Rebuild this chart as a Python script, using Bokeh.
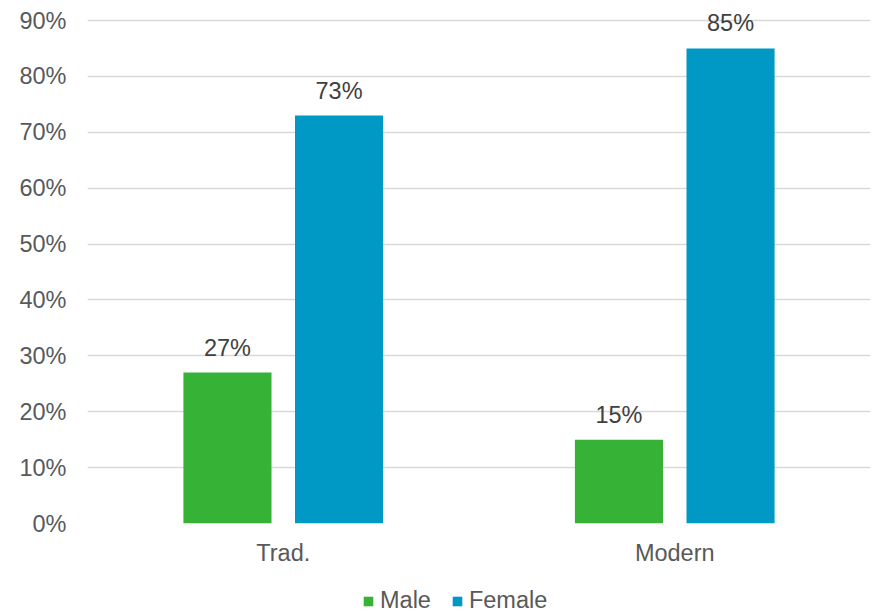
from bokeh.plotting import figure
from bokeh.layouts import column
from bokeh.models import (ColumnDataSource, FactorRange, Range1d, FixedTicker,
                          NumeralTickFormatter, Legend, LegendItem)
from bokeh.transform import dodge
from bokeh.core.properties import value
from bokeh.embed import file_html
from bokeh.resources import INLINE

# Share of male / female respondents per group
categories = ["Trad.", "Modern"]
male = [0.27, 0.15]
female = [0.73, 0.85]
y_ticks = [0.0, 0.1, 0.2, 0.3, 0.4, 0.5, 0.6, 0.7, 0.8, 0.9]
series_names = ["Male", "Female"]

GREEN = "#36B236"
BLUE = "#0098C4"
FONT = "Liberation Sans"
FS = "23.5px"

source = ColumnDataSource(dict(
    cat=categories,
    male=male,
    female=female,
    male_lbl=[f"{round(v * 100)}%" for v in male],
    female_lbl=[f"{round(v * 100)}%" for v in female],
))

# main chart; the value range runs a little above 90% so top labels have room
p = figure(width=878, height=568, x_range=FactorRange(*categories, range_padding=0),
           y_range=Range1d(0, 0.9358), output_backend="svg", toolbar_location=None,
           min_border_left=87, min_border_right=8, min_border_top=0,
           min_border_bottom=45)
p.outline_line_color = None
p.background_fill_color = "white"
p.border_fill_color = "white"

bw = 0.225
off = 0.1425
p.vbar(x=dodge("cat", -off, range=p.x_range), top="male", width=bw,
       source=source, fill_color=GREEN, line_color=None)
p.vbar(x=dodge("cat", off, range=p.x_range), top="female", width=bw,
       source=source, fill_color=BLUE, line_color=None)

# value labels above bars
for col, lbl, o in (("male", "male_lbl", -off), ("female", "female_lbl", off)):
    p.text(x=dodge("cat", o, range=p.x_range), y=col, text=lbl, source=source,
           text_align="center", text_baseline="alphabetic", y_offset=-25,
           text_font=value(FONT), text_font_size=FS, text_color="#404040")

# axes
p.yaxis.ticker = FixedTicker(ticks=y_ticks)
p.yaxis.formatter = NumeralTickFormatter(format="0%")
for ax in (p.xaxis[0], p.yaxis[0]):
    ax.axis_line_color = None
    ax.major_tick_line_color = None
    ax.minor_tick_line_color = None
    ax.major_label_text_font = FONT
    ax.major_label_text_font_size = FS
    ax.major_label_text_color = "#595959"
p.yaxis.major_label_standoff = 15
p.xaxis.major_label_standoff = 10

p.xgrid.grid_line_color = None
p.ygrid.ticker = FixedTicker(ticks=y_ticks)
p.ygrid.grid_line_color = "#D9D9D9"
p.ygrid.grid_line_width = 1.5

# legend strip underneath the chart (zero-height keys only feed the swatches)
lg = figure(width=878, height=46, x_range=Range1d(0, 1), y_range=Range1d(0, 1),
            output_backend="svg", toolbar_location=None,
            min_border_left=87, min_border_right=8,
            min_border_top=0, min_border_bottom=0)
lg.axis.visible = False
lg.grid.visible = False
lg.outline_line_color = None
lg.border_fill_color = "white"
keys = [lg.vbar(x=[0.5], top=[0], bottom=[0], width=0.01,
                fill_color=c, line_color=None)
        for c in (GREEN, BLUE)]

legend = Legend(items=[LegendItem(label=n, renderers=[r])
                       for n, r in zip(series_names, keys)],
                orientation="horizontal", location=(275, 0),
                padding=0, margin=0, spacing=20, label_standoff=6,
                glyph_width=12, glyph_height=12,
                label_text_font=FONT, label_text_font_size=FS,
                label_text_color="#595959", border_line_color=None,
                background_fill_alpha=0)
lg.add_layout(legend, "center")

layout = column(p, lg, spacing=0)
open("out.html", "w").write(file_html(layout, INLINE))
